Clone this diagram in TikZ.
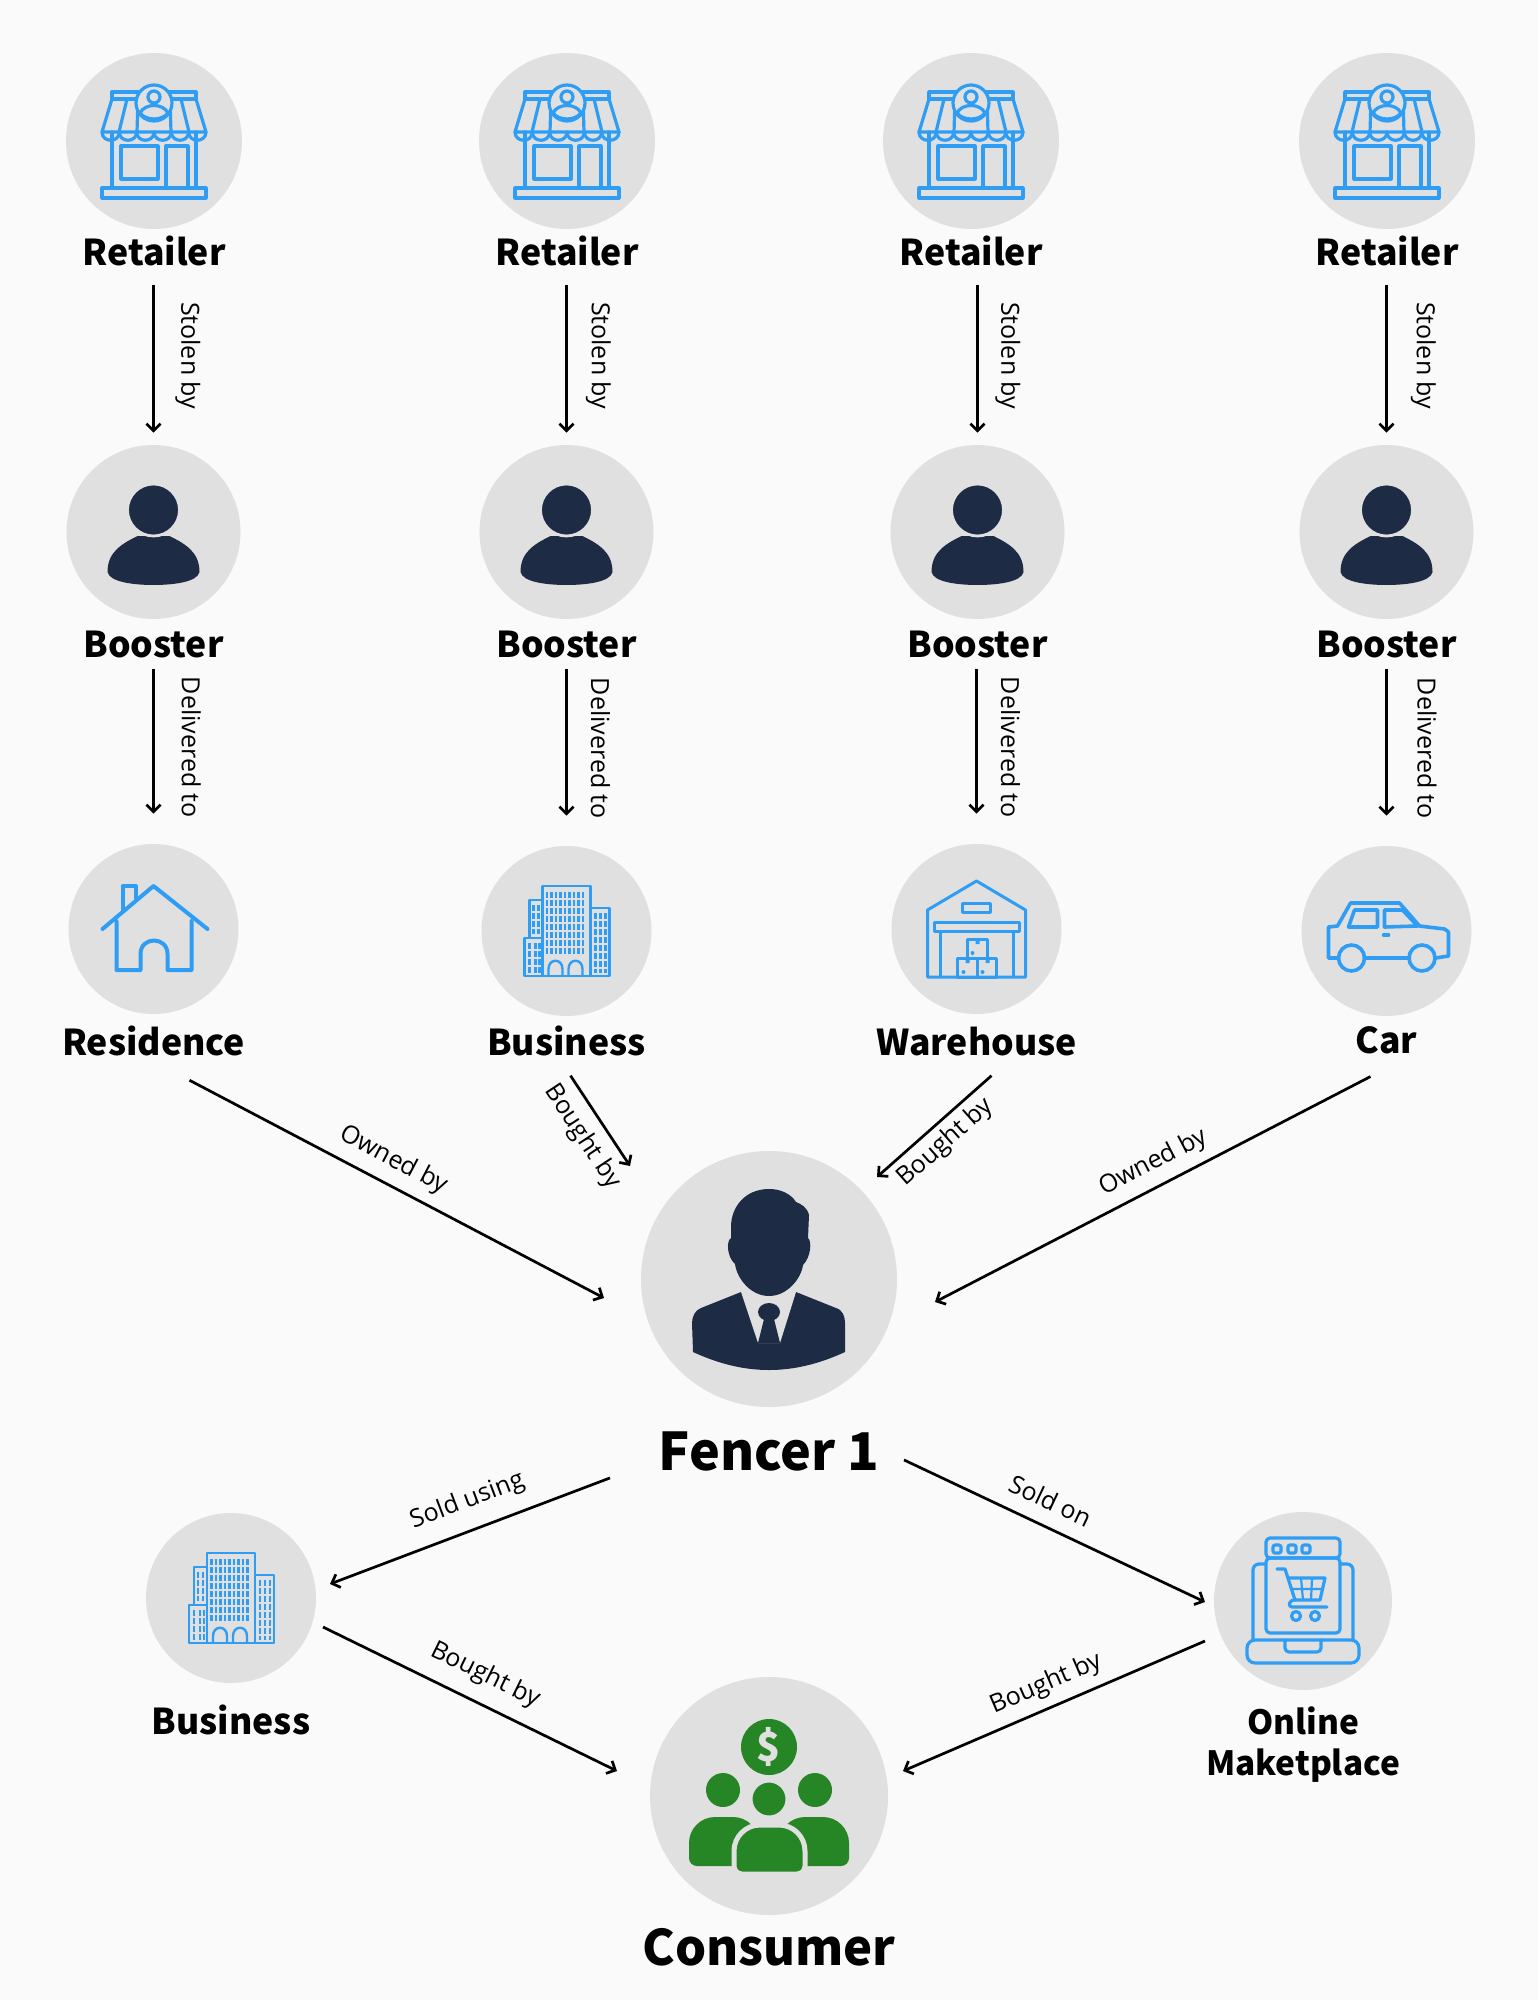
\documentclass[tikz,border=0pt]{standalone}
\usepackage{fontspec}
\setmainfont{Open Sans}
\newfontfamily\headfont{Noto Sans CJK SC}
\usepackage{xcolor}
\usetikzlibrary{arrows.meta, positioning}
\definecolor{paper}{HTML}{FAFAFA}
\definecolor{discgrey}{HTML}{E0E0E0}
\definecolor{iconblue}{HTML}{2F9DF3}
\definecolor{navy}{HTML}{1E2B45}
\definecolor{leaf}{HTML}{268525}

\begin{document}
\begin{tikzpicture}[
    x=0.5pt, y=-0.5pt,
    disc/.style={circle, fill=discgrey, inner sep=0pt, minimum size=#1},
    head/.style={font=\headfont\bfseries\fontsize{17.8}{20.4}\selectfont, text=black, inner sep=0pt, align=center},
    bighead/.style={font=\headfont\bfseries\fontsize{#1}{30}\selectfont, text=black, inner sep=0pt},
    verb/.style={font=\fontsize{12.5}{15}\selectfont, text=black, sloped, inner sep=0pt},
    arr/.style={-{Straight Barb[length=3.5pt,width=7pt]}, line width=1.35pt, black},
    stolen/.style={arr, shorten <=9pt, shorten >=6pt},
    delivered/.style={arr, shorten <=5pt, shorten >=15pt},
    line/.style={iconblue, line width=1.6pt, line join=round, line cap=round},
    fineline/.style={iconblue, line width=1.2pt, line join=round},
    pics/shopicon/.style={code={
        \draw[line] (-52,47) rectangle (52,57);
        \draw[line] (-42,-9) -- (-42,47) (42,-9) -- (42,47);
        \draw[line] (-33,5) rectangle (4,38);
        \draw[line] (12,47) -- (12,5) -- (34,5) -- (34,47);
        \draw[line] (-42,-49) rectangle (42,-42);
        \draw[line] (-42,-42) -- (-52,-9) -- (52,-9) -- (42,-42);
        \draw[line] (-27,-42) -- (-35,-9) (27,-42) -- (35,-9) (-16,-42) -- (-17,-9) (16,-42) -- (17,-9);
        \foreach \sx in {-52,-34.67,-17.33,0,17.33,34.67}
            \draw[line] (\sx,-9) .. controls (\sx,2) and (\sx+17.33,2) .. (\sx+17.33,-9);
        \draw[line, fill=discgrey] (0,-38) circle[radius=18];
        \draw[line] (0,-44) circle[radius=6];
        \draw[line] (-14,-28) .. controls (-9,-38) and (9,-38) .. (14,-28) .. controls (8,-20) and (-8,-20) .. (-14,-28);
    }},
    pics/personicon/.style={code={
        \fill[navy] (-46,40) .. controls (-46,20) and (-32,12) .. (-16,4) -- (16,4) .. controls (32,12) and (46,20) .. (46,40) .. controls (44,50) and (20,53) .. (0,53) .. controls (-20,53) and (-44,50) .. (-46,40) -- cycle;
        \draw[discgrey, line width=1.4pt, fill=navy] (0,-22) circle[radius=26];
    }},
    pics/houseicon/.style={code={
        \draw[line, line width=2pt] (-51,0) -- (0,-43) -- (54,0);
        \draw[line, line width=2pt] (-37,-8) -- (-37,41) -- (-13,41) -- (-13,25) .. controls (-13,7) and (14,7) .. (14,25) -- (14,41) -- (38,41) -- (38,-8);
        \draw[line, line width=2pt] (-31,-18) -- (-31,-43) -- (-18,-43) -- (-18,-31);
    }},
    pics/towericon/.style={code={
        \draw[fineline] (-24,-45) rectangle (24,45);
        \draw[fineline] (-24,-31) -- (-37,-31) -- (-37,7);
        \draw[fineline] (-24,7) -- (-42,7) -- (-42,45) -- (-24,45);
        \draw[fineline] (24,-23) -- (43,-23) -- (43,45) -- (24,45);
        \foreach \wx in {-19.5,-15,...,20}
            \draw[iconblue, line width=1.1pt, dash pattern=on 3pt off 1pt] (\wx,-39) -- (\wx,25);
        \foreach \wx in {-33,-28}
            \draw[iconblue, line width=1.1pt, dash pattern=on 3pt off 1pt] (\wx,-26) -- (\wx,3);
        \foreach \wx in {-37,-31,-27}
            \draw[iconblue, line width=1.1pt, dash pattern=on 3pt off 1pt] (\wx,12) -- (\wx,42);
        \foreach \wx in {29,34,39}
            \draw[iconblue, line width=1.1pt, dash pattern=on 3pt off 1pt] (\wx,-18) -- (\wx,42);
        \draw[fineline] (-18,45) -- (-18,38) .. controls (-18,27) and (-4,27) .. (-4,38) -- (-4,45);
        \draw[fineline] (2,45) -- (2,38) .. controls (2,27) and (16,27) .. (16,38) -- (16,45);
    }},
    pics/storeicon/.style={code={
        \draw[fineline, line width=1.5pt] (-49,48) -- (-49,-19) -- (0,-48) -- (49,-19) -- (49,48) -- cycle;
        \draw[fineline, line width=1.5pt] (-14,-26) rectangle (14,-17);
        \draw[fineline, line width=1.5pt] (-42,-7) rectangle (43,2);
        \draw[fineline, line width=1.5pt] (-36,2) -- (-36,48) (37,2) -- (37,48);
        \draw[fineline, line width=1.5pt] (-19,29) rectangle (1,48) (1,29) rectangle (20,48) (-9,10) rectangle (11,29);
        \fill[iconblue] (-1,10) rectangle (3,15) (-11,29) rectangle (-7,34) (9,29) rectangle (13,34);
        \fill[iconblue] (-4,24) circle[radius=2] (-13,43) circle[radius=2] (6,43) circle[radius=2];
    }},
    pics/caricon/.style={code={
        \draw[line, line width=1.8pt] (-48,27) -- (-58,27) -- (-58,-4) -- (-49,-5) -- (-36,-28) -- (13,-28) -- (33,-5) -- (58,-2) -- (62,1) -- (62,25) -- (49,27);
        \draw[line, line width=1.8pt] (-22,27) -- (23,27);
        \draw[line, line width=1.8pt] (-35,27) circle[radius=13] (35.5,27) circle[radius=13];
        \draw[line, line width=1.8pt] (-38,-4) -- (-32,-21) -- (-9,-21) -- (-9,-4) -- cycle;
        \draw[line, line width=1.8pt] (-2,-4) -- (-2,-21) -- (16,-21) -- (31,-5) -- cycle;
        \draw[line, line width=1.8pt] (-3,4) -- (2,4);
    }},
    pics/marketicon/.style={code={
        \draw[line, rounded corners=2pt] (-37,-43) rectangle (37,32);
        \draw[line, rounded corners=2pt] (-37,-43) -- (-37,-63) -- (37,-63) -- (37,-43) -- cycle;
        \draw[line, rounded corners=1pt] (-30,-56) rectangle (-22,-48) (-15,-56) rectangle (-7,-48) (-1,-56) rectangle (7,-48);
        \draw[line, rounded corners=3pt] (-37,-37) -- (-50,-37) -- (-50,38);
        \draw[line, rounded corners=3pt] (37,-37) -- (50,-37) -- (50,38);
        \draw[line, rounded corners=4pt] (-56,39) -- (-56,62) -- (56,62) -- (56,39) -- cycle;
        \draw[line, rounded corners=2pt] (-18,39) -- (-18,51) -- (18,51) -- (18,39);
        \draw[line] (-26,-32) -- (-18,-32) -- (-8,-1) -- (17,-1) -- (22,-23) -- (-15,-23);
        \draw[line] (24,6) -- (-11,6) .. controls (-15,6) and (-15,-1) .. (-8,-1);
        \draw[line] (-7,15) circle[radius=4.5] (12,15) circle[radius=4.5];
        \draw[line, line width=1.1pt] (-2,-23) -- (0,-1) (9,-23) -- (8,-1) (-12,-12) -- (19,-12);
    }},
    pics/suiticon/.style={code={
        \fill[navy] (-28,13) -- (-68,29) .. controls (-74,31) and (-77,38) .. (-77,44) -- (-76,73) .. controls (-50,85) and (-25,91) .. (0,91) .. controls (25,91) and (50,85) .. (76,73) -- (76,44) .. controls (76,38) and (74,31) .. (67,29) -- (27,13) -- cycle;
        \fill[discgrey] (-28,13) -- (-11,64) -- (11,64) -- (27,13) -- cycle;
        \fill[navy] (0,-90) .. controls (-24,-90) and (-38,-72) .. (-38,-52) -- (-38,-41) .. controls (-43,-38) and (-42,-22) .. (-34,-15) .. controls (-32,0) and (-18,17) .. (0,17) .. controls (18,17) and (32,0) .. (34,-14) .. controls (42,-22) and (43,-38) .. (39,-41) -- (40,-64) .. controls (38,-72) and (32,-75) .. (27,-77) .. controls (22,-85) and (12,-90) .. (0,-90) -- cycle;
        \fill[navy] (0,33) ellipse[x radius=11, y radius=9];
        \fill[navy] (-5,40) -- (5,40) -- (11,64) -- (-11,64) -- cycle;
    }},
    pics/crowdicon/.style={code={
        \fill[leaf] (0,-49) circle[radius=28];
        \node[font=\headfont\bfseries\fontsize{20}{24}\selectfont, text=discgrey, inner sep=0pt] (dollar) at (0,-49) {\$};
        \fill[leaf] (-46,-6) circle[radius=17] (46,-6) circle[radius=17];
        \fill[leaf, rounded corners=4pt] (-10,70) -- (-80,70) [rounded corners=13pt] -- (-80,21) -- (-10,21) -- cycle;
        \fill[leaf, rounded corners=4pt] (10,70) -- (80,70) [rounded corners=13pt] -- (80,21) -- (10,21) -- cycle;
        \draw[discgrey, fill=leaf, line width=2.5pt, rounded corners=4pt] (-35,78) [rounded corners=13pt] -- (-35,29) -- (36,29) [rounded corners=4pt] -- (36,78) -- cycle;
        \draw[discgrey, fill=leaf, line width=1pt] (0,3) circle[radius=17.5];
    }},
]
\path[use as bounding box, fill=paper] (0,0) rectangle (1538,2000);

% Retailers
\node[disc=88pt] (ret1) at (154,141) {};
\node[disc=88pt] (ret2) at (567,141) {};
\node[disc=88pt] (ret3) at (971,141) {};
\node[disc=88pt] (ret4) at (1387,141) {};
\node[head, below=3.2pt of ret1] (ret1lbl) {Retailer};
\node[head, below=3.2pt of ret2] (ret2lbl) {Retailer};
\node[head, below=3.2pt of ret3] (ret3lbl) {Retailer};
\node[head, below=3.2pt of ret4] (ret4lbl) {Retailer};
\pic at (ret1) {shopicon};
\pic at (ret2) {shopicon};
\pic at (ret3) {shopicon};
\pic at (ret4) {shopicon};

% Boosters
\node[disc=87pt] (boo1) at (153.5,532) {};
\node[disc=87pt] (boo2) at (566.5,532) {};
\node[disc=87pt] (boo3) at (977.5,532) {};
\node[disc=87pt] (boo4) at (1386.5,532) {};
\node[head, below=5.7pt of boo1] (boo1lbl) {Booster};
\node[head, below=5.7pt of boo2] (boo2lbl) {Booster};
\node[head, below=5.7pt of boo3] (boo3lbl) {Booster};
\node[head, below=5.7pt of boo4] (boo4lbl) {Booster};
\pic at (boo1) {personicon};
\pic at (boo2) {personicon};
\pic at (boo3) {personicon};
\pic at (boo4) {personicon};

% Places
\node[disc=85pt] (res) at (153.5,929) {};
\node[disc=85pt] (bus) at (566.5,931) {};
\node[disc=85pt] (ware) at (976.5,929) {};
\node[disc=85pt] (car) at (1386.5,931) {};
\node[head, below=5.7pt of res] (reslbl) {Residence};
\node[head, below=4.4pt of bus] (buslbl) {Business};
\node[head, below=6.2pt of ware] (warelbl) {Warehouse};
\node[head, below=5pt of car] (carlbl) {Car};
\pic at (res) {houseicon};
\pic at (bus) {towericon};
\pic at (ware) {storeicon};
\pic at (car) {caricon};

% Fencer
\node[disc=128pt] (fencer) at (769,1279) {};
\node[bighead=26, below=12.2pt of fencer] (fencerlbl) {Fencer 1};
\pic at (fencer) {suiticon};

% Outlets
\node[disc=85pt] (shop) at (231,1598) {};
\node[head, below=10.7pt of shop] (shoplbl) {Business};
\pic at (shop) {towericon};
\node[disc=89pt] (online) at (1303,1601) {};
\node[head, font=\headfont\bfseries\fontsize{16.7}{20.4}\selectfont, below=8.2pt of online] (onlinelbl) {Online\\Maketplace};
\pic at (online) {marketicon};

% Consumer
\node[disc=119pt] (cons) at (769,1796) {};
\node[bighead=24.5, below=6.4pt of cons] (conslbl) {Consumer};
\pic at (cons) {crowdicon};

% Connections
\draw[stolen] (ret1lbl.south -| boo1.north) -- node[verb, above=10.2pt, pos=0.5] (st1) {Stolen by} (boo1.north);
\draw[stolen] (ret2lbl.south -| boo2.north) -- node[verb, above=9pt, pos=0.5] (st2) {Stolen by} (boo2.north);
\draw[stolen] (ret3lbl.south -| boo3.north) -- node[verb, above=8.3pt, pos=0.5] (st3) {Stolen by} (boo3.north);
\draw[stolen] (ret4lbl.south -| boo4.north) -- node[verb, above=11.5pt, pos=0.5] (st4) {Stolen by} (boo4.north);
\draw[delivered] (boo1lbl.south -| res.north) -- node[verb, above=13.4pt, pos=0.48] (de1) {Delivered to} (res.north);
\draw[delivered] (boo2lbl.south -| bus.north) -- node[verb, above=11.5pt, pos=0.48] (de2) {Delivered to} (bus.north);
\draw[delivered] (boo3lbl.south -| ware.north) -- node[verb, above=11.5pt, pos=0.48] (de3) {Delivered to} (ware.north);
\draw[delivered] (boo4lbl.south -| car.north) -- node[verb, above=14.8pt, pos=0.48] (de4) {Delivered to} (car.north);

\draw[arr] ([shift={(36,39)}]reslbl.center) -- node[verb, above=5pt, pos=0.465] (ow1) {Owned by} ([shift={(-165,19)}]fencer.center);
\draw[arr] ([shift={(4,35)}]buslbl.center) -- node[verb, below=5pt, pos=0.53] (bo1) {Bought by} ([shift={(-139,-113)}]fencer.center);
\draw[arr] ([shift={(15,34)}]warelbl.center) -- node[verb, below=3pt, pos=0.515] (bo2) {Bought by} ([shift={(108,-102)}]fencer.center);
\draw[arr] ([shift={(-16,36)}]carlbl.center) -- node[verb, above=4.7pt, pos=0.474] (ow2) {Owned by} ([shift={(166,23)}]fencer.center);

\draw[arr] ([shift={(-159,26)}]fencerlbl.center) -- node[verb, above=7.5pt, pos=0.473] (so1) {Sold using} ([shift={(99,-14)}]shop.center);
\draw[arr] ([shift={(135,8)}]fencerlbl.center) -- node[verb, above=7.4pt, pos=0.45] (so2) {Sold on} ([shift={(-98,1)}]online.center);
\draw[arr] ([shift={(92,29)}]shop.center) -- node[verb, above=7.1pt, pos=0.51] (bo3) {Bought by} ([shift={(-152,-25)}]cons.center);
\draw[arr] ([shift={(-98,40)}]online.center) -- node[verb, above=4.7pt, pos=0.496] (bo4) {Bought by} ([shift={(134,-25)}]cons.center);
\end{tikzpicture}
\end{document}
